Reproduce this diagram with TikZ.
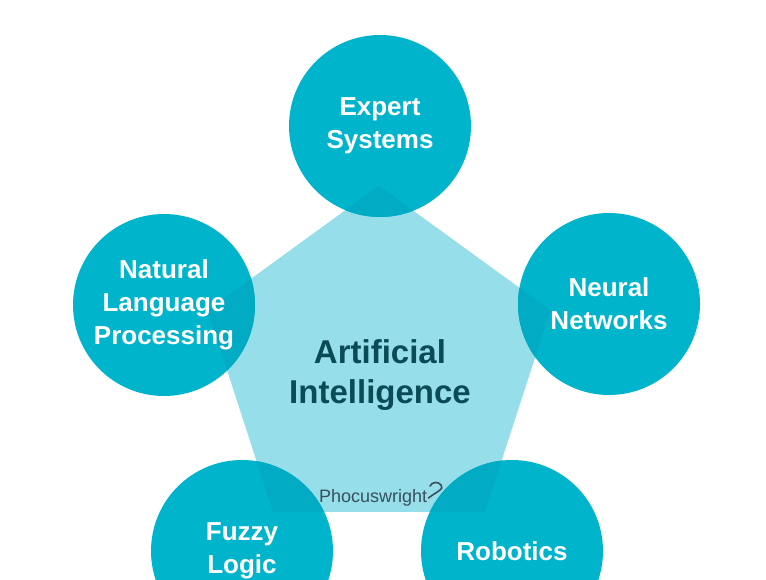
\documentclass[tikz,border=0pt]{standalone}
\usepackage{fontspec}
\setsansfont{Liberation Sans}
\usetikzlibrary{shapes.geometric}
\pgfdeclarelayer{bg}
\pgfsetlayers{bg,main}
\definecolor{pentfill}{RGB}{150,222,233}
\definecolor{topicfill}{RGB}{0,180,203}
\definecolor{overlapfill}{RGB}{0,171,195}
\definecolor{aitext}{RGB}{10,75,87}
\definecolor{logotext}{RGB}{55,80,92}
\begin{document}
\begin{tikzpicture}[x=1pt,y=-1pt,
  topic/.style={circle,minimum size=182pt,inner sep=0pt,text=white,align=center,
    font=\sffamily\bfseries\fontsize{26}{33}\selectfont},
  hub/.style={regular polygon,regular polygon sides=5,minimum size=360pt,inner sep=0pt}]
\clip(0,0)rectangle(766,580);
\node[hub](ai)at(379,366){};
\node[topic](es)at(380,126){Expert\\Systems};
\node[topic](nn)at(609,304){Neural\\Networks};
\node[topic](nlp)at(164,305){Natural\\Language\\Processing};
\node[topic](fl)at(242,551){Fuzzy\\Logic};
\node[topic](rb)at(512,551){Robotics};
\begin{pgfonlayer}{bg}
\fill[pentfill](ai.corner 1)--(ai.corner 2)--(ai.corner 3)--(ai.corner 4)--(ai.corner 5)--cycle;
\foreach \t in {es,nn,nlp,fl,rb}
  \fill[topicfill](\t.center)circle(91pt);
\clip(ai.corner 1)--(ai.corner 2)--(ai.corner 3)--(ai.corner 4)--(ai.corner 5)--cycle;
\foreach \t in {es,nn,nlp,fl,rb}
  \fill[overlapfill](\t.center)circle(91pt);
\end{pgfonlayer}
\node[text=aitext,align=center,font=\sffamily\bfseries\fontsize{33}{40}\selectfont](ailabel)at(380,375){Artificial\\Intelligence};
\node[text=logotext,font=\sffamily\fontsize{18}{20}\selectfont,inner sep=0pt,anchor=base west](logo)at(319,502){Phocuswright};
\draw[logotext,line width=1.6pt,line cap=round](logo.base east)++(1,-4)
  ..controls(436,492)and(445,489)..(441,485)..controls(438,481)and(432,482)..(430,486);
\end{tikzpicture}
\end{document}
